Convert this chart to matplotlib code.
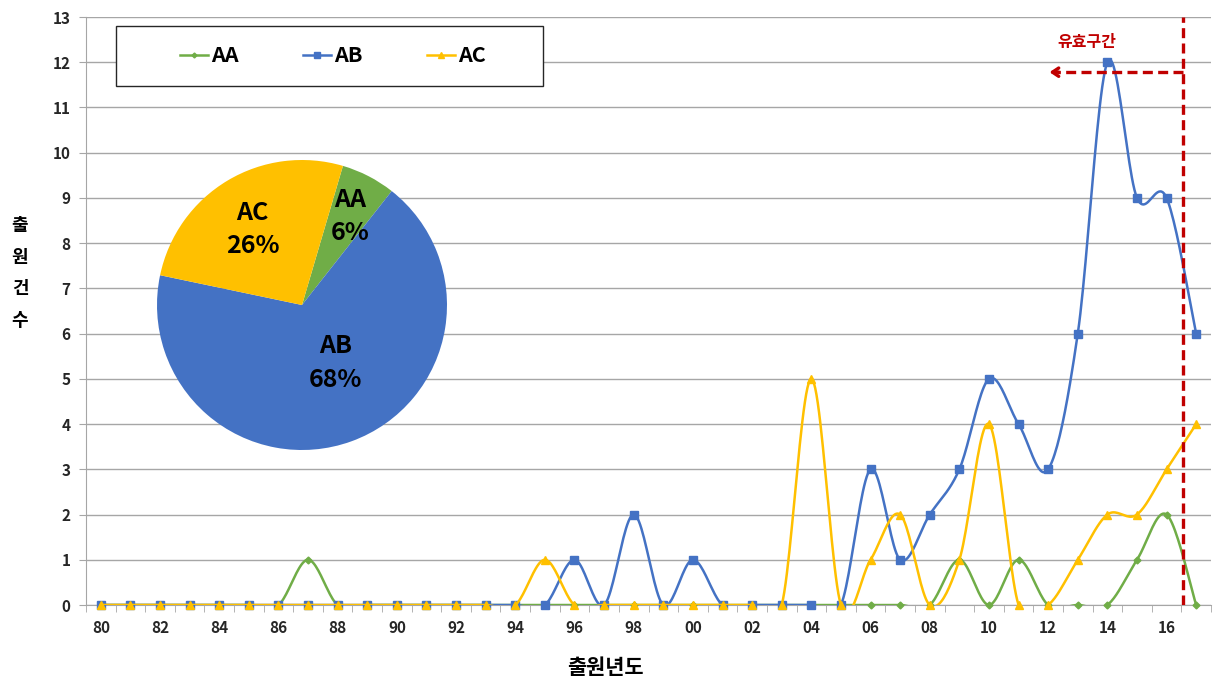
import numpy as np
import matplotlib.pyplot as plt
from matplotlib.lines import Line2D
from matplotlib.patches import Rectangle

plt.rcParams['font.family'] = ['Noto Sans CJK KR', 'DejaVu Sans']

years = [f"{y % 100:02d}" for y in range(1980, 2018)]

# yearly counts, 1980 .. 2017
aa = [0, 0, 0, 0, 0, 0, 0, 1, 0, 0, 0, 0, 0, 0, 0, 0, 0, 0, 0, 0,
      0, 0, 0, 0, 0, 0, 0, 0, 0, 1, 0, 1, 0, 0, 0, 1, 2, 0]
ab = [0, 0, 0, 0, 0, 0, 0, 0, 0, 0, 0, 0, 0, 0, 0, 0, 1, 0, 2, 0,
      1, 0, 0, 0, 0, 0, 3, 1, 2, 3, 5, 4, 3, 6, 12, 9, 9, 6]
ac = [0, 0, 0, 0, 0, 0, 0, 0, 0, 0, 0, 0, 0, 0, 0, 1, 0, 0, 0, 0,
      0, 0, 0, 0, 5, 0, 1, 2, 0, 1, 4, 0, 0, 1, 2, 2, 3, 4]

names = ['AA', 'AB', 'AC']
colors = ['#70AD47', '#4472C4', '#FFC000']
markers = ['D', 's', '^']
msizes = [3.5, 5.5, 6]

valid_edge = 36.55      # boundary of the valid period
arrow_end = 31.95
arrow_y = 11.78


def smooth(y, n=24):
    # bezier smoothing through every point (catmull-rom style tangents)
    y = np.asarray(y, dtype=float)
    x = np.arange(len(y), dtype=float)
    xs, ys = [], []
    t = np.linspace(0, 1, n)
    for i in range(len(y) - 1):
        i0 = max(i - 1, 0)
        i3 = min(i + 2, len(y) - 1)
        cx1 = x[i] + (x[i + 1] - x[i0]) / 6
        cx2 = x[i + 1] - (x[i3] - x[i]) / 6
        cy1 = y[i] + (y[i + 1] - y[i0]) / 6
        cy2 = y[i + 1] - (y[i3] - y[i]) / 6
        b0 = (1 - t) ** 3
        b1 = 3 * (1 - t) ** 2 * t
        b2 = 3 * (1 - t) * t ** 2
        b3 = t ** 3
        xs.append(b0 * x[i] + b1 * cx1 + b2 * cx2 + b3 * x[i + 1])
        ys.append(b0 * y[i] + b1 * cy1 + b2 * cy2 + b3 * y[i + 1])
    return np.concatenate(xs), np.concatenate(ys)


fig = plt.figure(figsize=(12.13, 6.82), dpi=100)
ax = fig.add_axes([86 / 1213, 1 - 605 / 682, 1125 / 1213, 588 / 682])

idx = np.arange(len(years))
for k, s in enumerate([aa, ab, ac]):
    sx, sy = smooth(s)
    ax.plot(sx, sy, color=colors[k], lw=1.8, zorder=3 + k)
    ax.plot(idx, s, ls='none', marker=markers[k], ms=msizes[k],
            color=colors[k], clip_on=False, zorder=3 + k)

ax.set_xlim(-0.5, len(years) - 0.5)
ax.set_ylim(0, 13)
ax.set_yticks(range(0, 14))
ax.set_xticks(idx[::2])
ax.set_xticklabels(years[::2])
ax.set_xticks(np.arange(-0.5, len(years), 1), minor=True)
ax.tick_params(axis='x', which='major', length=0, pad=11)
ax.tick_params(axis='x', which='minor', length=5, color='#A6A6A6')
ax.tick_params(axis='y', length=5, color='#A6A6A6', pad=6)
for lab in ax.get_xticklabels() + ax.get_yticklabels():
    lab.set_fontweight('bold')
    lab.set_fontsize(11)
    lab.set_color('#262626')
ax.grid(axis='y', color='#A6A6A6', lw=1)
ax.set_axisbelow(True)
for sp in ['top', 'right']:
    ax.spines[sp].set_visible(False)
for sp in ['left', 'bottom']:
    ax.spines[sp].set_color('#A6A6A6')

# valid period marker
ax.axvline(valid_edge, color='#C00000', lw=2.4, ls=(0, (3, 1.6)), zorder=8)
ax.plot([valid_edge, arrow_end + 0.35], [arrow_y, arrow_y], color='#C00000',
        lw=2.4, ls=(0, (3, 1.6)), zorder=8)
ax.annotate('', xy=(arrow_end, arrow_y), xytext=(arrow_end + 0.5, arrow_y),
            arrowprops=dict(arrowstyle='->,head_length=0.45,head_width=0.3',
                            color='#C00000', lw=2.4), zorder=8)
ax.text(33.3, 12.45, '유효구간', color='#C00000', fontsize=11.5,
        fontweight='bold', ha='center', va='center')

fig.text(20 / 1213, 1 - 273 / 682, '출\n원\n건\n수', fontsize=13,
         fontweight='bold', ha='center', va='center', linespacing=1.85)
fig.text(605 / 1213, 1 - 668 / 682, '출원년도', fontsize=15,
         fontweight='bold', ha='center', va='center')

# legend box
fig.patches.append(Rectangle((116 / 1213, 1 - 86 / 682), 427 / 1213, 60 / 682,
                             transform=fig.transFigure, fill=True,
                             facecolor='white', edgecolor='#262626', lw=1,
                             zorder=10))
handles = [Line2D([], [], color=colors[k], marker=markers[k],
                  ms=msizes[k] - 1, lw=1.8) for k in range(3)]
leg = fig.legend(handles, names, loc='center', ncol=3, frameon=False,
                 bbox_to_anchor=(333 / 1213, 1 - 56 / 682),
                 prop={'weight': 'bold', 'size': 15.5}, handlelength=1.3,
                 handletextpad=0.15, columnspacing=3.0)
leg.set_zorder(11)

# share of totals
totals = [sum(aa), sum(ab), sum(ac)]
pax = fig.add_axes([157 / 1213, 1 - 450 / 682, 290 / 1213, 290 / 682])
pax.pie(totals, colors=colors, startangle=73.6, counterclock=False,
        radius=1.0, wedgeprops=dict(lw=0))
pax.set_xlim(-1, 1)
pax.set_ylim(-1, 1)
label_pos = [(0.33, 0.61), (0.23, -0.40), (-0.34, 0.52)]
for k in range(3):
    pct = 100 * totals[k] / sum(totals)
    pax.text(label_pos[k][0], label_pos[k][1], f"{names[k]}\n{pct:.0f}%",
             ha='center', va='center', fontsize=18, fontweight='bold',
             linespacing=1.5)

fig.savefig('out.png', dpi=100)
